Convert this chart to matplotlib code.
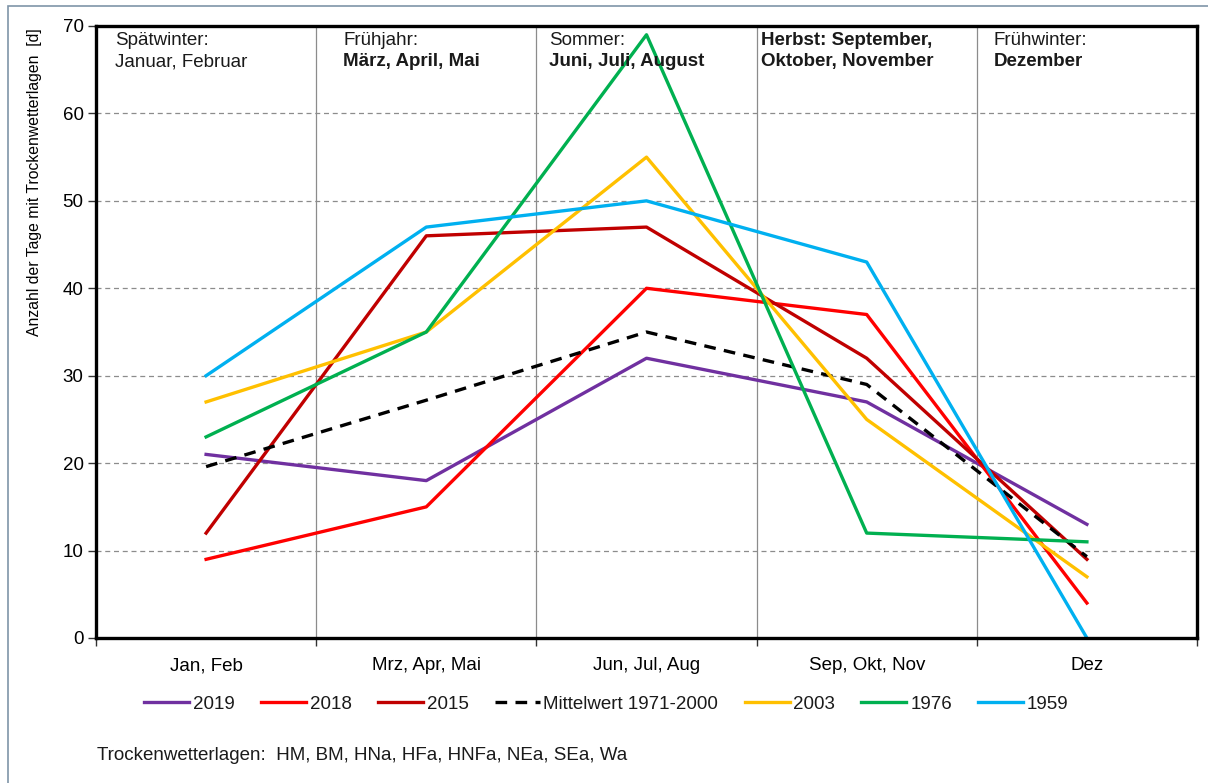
"""Trockenwetterlagen je Jahreszeit - Vergleich ausgewaehlter Jahre."""

import matplotlib

matplotlib.use("Agg")

import matplotlib.pyplot as plt
from matplotlib.patches import Rectangle
from matplotlib.ticker import FixedLocator

CATEGORIES = ["Jan, Feb", "Mrz, Apr, Mai", "Jun, Jul, Aug", "Sep, Okt, Nov", "Dez"]

Y2019 = [21, 18, 32, 27, 13]
Y2018 = [9, 15, 40, 37, 4]
Y2015 = [12, 46, 47, 32, 9]
MEAN_1971_2000 = [19.6, 27.2, 35, 29, 9.3]
Y2003 = [27, 35, 55, 25, 7]
Y1976 = [23, 35, 69, 12, 11]
Y1959 = [30, 47, 50, 43, 0]

SEASON_LABELS = [
    ("Spätwinter:", "Januar, Februar"),
    ("Frühjahr:", "März, April, Mai"),
    ("Sommer:", "Juni, Juli, August"),
    ("Herbst: September,", "Oktober, November"),
    ("Frühwinter:", "Dezember"),
]

COLORS = {
    "2019": "#7030A0",
    "2018": "#FF0000",
    "2015": "#C00000",
    "mean": "#000000",
    "2003": "#FFC000",
    "1976": "#00B050",
    "1959": "#00B0F0",
    "grid": "#8C8C8C",
    "frame": "#7F95A8",
}

plt.rcParams.update(
    {
        "font.family": ["Liberation Sans", "DejaVu Sans"],
        "font.size": 13.5,
        "text.color": "#1A1A1A",
    }
)

fig = plt.figure(figsize=(12.08, 7.83), dpi=100)
ax = fig.add_axes([96 / 1208, 1 - 638 / 783, (1197 - 96) / 1208, (638 - 26) / 783])

# outer window frame
fig.patches.append(
    Rectangle((8 / 1208, -0.1), 1.2, 1 - 6 / 783 + 0.1, transform=fig.transFigure,
              fill=False, edgecolor=COLORS["frame"], linewidth=1.2)
)

x = list(range(len(CATEGORIES)))
lw = 2.4
ax.plot(x, Y2019, color=COLORS["2019"], lw=lw, label="2019")
ax.plot(x, Y2018, color=COLORS["2018"], lw=lw, label="2018")
ax.plot(x, Y2015, color=COLORS["2015"], lw=lw, label="2015")
ax.plot(x, MEAN_1971_2000, color=COLORS["mean"], lw=lw, ls=(0, (3.5, 2.5)),
        label="Mittelwert 1971-2000")
ax.plot(x, Y2003, color=COLORS["2003"], lw=lw, label="2003")
ax.plot(x, Y1976, color=COLORS["1976"], lw=lw, label="1976")
ax.plot(x, Y1959, color=COLORS["1959"], lw=lw, label="1959")

ax.set_xlim(-0.5, len(CATEGORIES) - 0.5)
ax.set_ylim(0, 70)
ax.set_yticks(range(0, 71, 10))
ax.set_xticks(x)
ax.set_xticklabels(CATEGORIES)
ax.xaxis.set_minor_locator(FixedLocator([i + 0.5 for i in range(-1, len(CATEGORIES))]))
ax.tick_params(axis="x", which="major", length=0, pad=14, labelsize=13.5)
ax.tick_params(axis="x", which="minor", length=6, width=1, color="#333333")
ax.tick_params(axis="y", length=6, width=1, color="#333333", pad=3, labelsize=13.5)

for yv in range(10, 70, 10):
    ax.axhline(yv, color=COLORS["grid"], lw=0.9, ls=(0, (4, 3)), zorder=0)
for xb in range(len(CATEGORIES) - 1):
    ax.axvline(xb + 0.5, color=COLORS["grid"], lw=0.9, zorder=0)

for spine in ax.spines.values():
    spine.set_linewidth(2.4)
    spine.set_color("black")

ax.set_ylabel("Anzahl der Tage mit Trockenwetterlagen  [d]", fontsize=11.3)
ax.yaxis.set_label_coords(-0.049, 0.745)

label_x = [-0.414, 0.623, 1.559, 2.518, 3.577]
bold_second = [False, True, True, True, True]
bold_first = [False, False, False, True, False]
for lx, (first, second), b1, b2 in zip(label_x, SEASON_LABELS, bold_first, bold_second):
    ax.text(lx, 69.3, first, ha="left", va="top", fontsize=13.5,
            fontweight="bold" if b1 else "normal")
    ax.text(lx, 66.9, second, ha="left", va="top", fontsize=13.5,
            fontweight="bold" if b2 else "normal")

fig.legend(
    loc="center",
    bbox_to_anchor=(0.502, 1 - 704 / 783),
    ncol=7,
    frameon=False,
    fontsize=13.5,
    handlelength=2.4,
    handletextpad=0.2,
    columnspacing=1.4,
)

fig.text(97 / 1208, 1 - 755 / 783, "Trockenwetterlagen:  HM, BM, HNa, HFa, HNFa, NEa, SEa, Wa",
         ha="left", va="center", fontsize=13.5)

fig.savefig("out.png", dpi=100, facecolor="white")
plt.close(fig)
